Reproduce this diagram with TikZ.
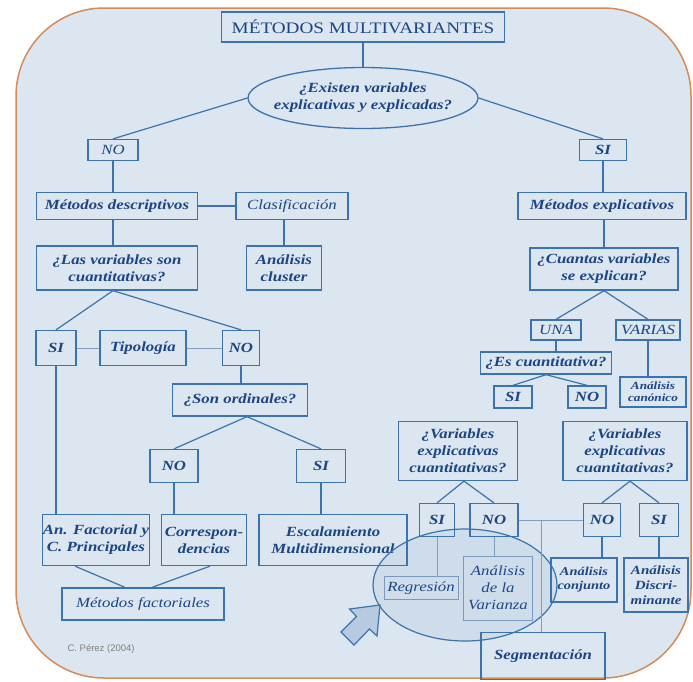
\documentclass[tikz,border=0pt]{standalone}
\usepackage{fontspec}
\setmainfont{Liberation Serif}[FakeStretch=1.2]
\newfontfamily\sansf{Liberation Sans}
\usetikzlibrary{shapes.geometric,calc}
\definecolor{bgfill}{HTML}{DCE6F0}
\definecolor{bord}{HTML}{D88A55}
\definecolor{boxc}{HTML}{3B73AE}
\definecolor{txtc}{HTML}{1B4585}
\definecolor{thinc}{HTML}{7F9DBF}
\definecolor{arrf}{HTML}{B6CBE0}
\begin{document}
\begin{tikzpicture}[x=1pt,y=-1pt,
  bx/.style={draw=boxc,line width=1.3pt,text=txtc,align=center,inner sep=0pt,
    font=\fontsize{14}{17}\selectfont\bfseries\itshape},
  itx/.style={font=\fontsize{14}{17}\selectfont\itshape},
  thinbox/.style={line width=0.8pt,draw=thinc},
  lk/.style={draw=boxc,line width=1.2pt},
  tl/.style={draw=thinc,line width=0.8pt}]
\useasboundingbox (0,0) rectangle (693,681);
% background panel
\fill[white] (0,0) rectangle (693,681);
\draw[bord,line width=1.5pt,fill=bgfill,rounded corners=88pt] (16,8) rectangle (691,678);

% top
\node[bx,minimum width=283,minimum height=30,font=\fontsize{16}{19}\selectfont] (title) at (363,27) {MÉTODOS MULTIVARIANTES};
\node[bx,ellipse,minimum width=230,minimum height=61] (q1) at (363,98) {\makebox[0pt]{¿Existen variables}\\\makebox[0pt]{explicativas y explicadas?}};
\node[bx,itx,minimum width=50,minimum height=21] (no1) at (113,150) {NO};
\node[bx,minimum width=47,minimum height=21] (si1) at (603,150) {SI};

% left branch
\node[bx,minimum width=161,minimum height=27] (mdesc) at (117,206) {Métodos descriptivos};
\node[bx,itx,minimum width=112,minimum height=27] (clasif) at (292,206) {Clasificación};
\node[bx,minimum width=161,minimum height=44] (qlas) at (117,268) {¿Las variables son\\cuantitativas?};
\node[bx,minimum width=75,minimum height=44] (cluster) at (284,268) {Análisis\\cluster};
\node[bx,minimum width=40,minimum height=35] (si2) at (56,348) {SI};
\node[bx,minimum width=86,minimum height=35] (tipo) at (143,348) {Tipología};
\node[bx,minimum width=37,minimum height=35] (no2) at (241,348) {NO};
\node[bx,minimum width=135,minimum height=32] (qord) at (240,400) {¿Son ordinales?};
\node[bx,minimum width=48,minimum height=33] (no3) at (174,466) {NO};
\node[bx,minimum width=49,minimum height=33] (si3) at (321,466) {SI};
\node[bx,minimum width=106,minimum height=51] (anfac) at (96,540) {An. Factorial y\\C. Principales};
\node[bx,minimum width=85,minimum height=51] (corr) at (204,540) {Correspon-\\dencias};
\node[bx,minimum width=148,minimum height=51] (escal) at (333,540) {Escalamiento\\Multidimensional};
\node[bx,itx,minimum width=162,minimum height=32] (mfact) at (143,604) {Métodos factoriales};
\node[text=gray,font=\sansf\fontsize{9.5}{11}\selectfont,anchor=west] (autor) at (64,649) {C. Pérez (2004)};

% right branch
\node[bx,minimum width=168,minimum height=27] (mexpl) at (602,206) {Métodos explicativos};
\node[bx,minimum width=148,minimum height=42] (qcuant) at (604,269) {¿Cuantas variables\\se explican?};
\node[bx,itx,minimum width=50,minimum height=20] (una) at (556,330) {UNA};
\node[bx,itx,minimum width=64,minimum height=20] (varias) at (648,330) {VARIAS};
\node[bx,minimum width=131,minimum height=22] (qes) at (546,363) {¿Es cuantitativa?};
\node[bx,minimum width=66,minimum height=30,font=\fontsize{11}{12}\selectfont\bfseries\itshape] (canon) at (653,392) {Análisis\\canónico};
\node[bx,minimum width=38,minimum height=22] (si4) at (513,397) {SI};
\node[bx,minimum width=38,minimum height=22] (no4) at (587,397) {NO};
\node[bx,minimum width=119,minimum height=59] (qvar1) at (458,451) {¿Variables\\explicativas\\cuantitativas?};
\node[bx,minimum width=124,minimum height=59] (qvar2) at (625,451) {¿Variables\\explicativas\\cuantitativas?};
\node[bx,minimum width=35,minimum height=33] (si5) at (437,520) {SI};
\node[bx,minimum width=48,minimum height=33] (no5) at (494,520) {NO};
\node[bx,minimum width=37,minimum height=33] (no6) at (602,520) {NO};
\node[bx,minimum width=39,minimum height=33] (si6) at (659,520) {SI};
\node[bx,itx,thinbox,minimum width=74,minimum height=23] (regr) at (421,588) {Regresión};
\node[bx,itx,thinbox,minimum width=69,minimum height=64] (anvar) at (498,588) {Análisis\\de la\\Varianza};
\node[bx,minimum width=66,minimum height=44,font=\fontsize{12}{14}\selectfont\bfseries\itshape] (conj) at (584,580) {Análisis\\conjunto};
\node[bx,minimum width=64,minimum height=54,font=\fontsize{12.5}{15}\selectfont\bfseries\itshape] (discr) at (656,585) {Análisis\\Discri-\\minante};
\node[bx,minimum width=124,minimum height=47] (segm) at (543,656) {Segmentación};

% highlight ellipse
\node[ellipse,draw=boxc,line width=1.2pt,fill=boxc,fill opacity=0.08,minimum width=184,minimum height=112] (hl) at (465,585) {};
% arrow
\draw[boxc,line width=1.2pt,fill=arrf,line join=miter]
  (380,605) -- (377,636) -- (369.5,629) -- (354,645) -- (341,632) -- (356.5,616.5) -- (349.5,609) -- cycle;

% connectors
\draw[lk] (title.south) -- (q1.north);
\draw[lk] (q1.west) -- (no1.north);
\draw[lk] (q1.east) -- (si1.north);
\draw[lk] (no1.south) -- (no1.south |- mdesc.north);
\draw[lk] (si1.south) -- (si1.south |- mexpl.north);
\draw[lk] (mdesc.east) -- (clasif.west);
\draw[lk] (no1.south |- mdesc.south) -- (no1.south |- qlas.north);
\draw[lk] (cluster.north |- clasif.south) -- (cluster.north);
\draw[lk] (qlas.south -| no1.south) -- (si2.north);
\draw[lk] (qlas.south -| no1.south) -- (no2.north);
\draw[tl] (si2.east) -- (tipo.west);
\draw[tl] (tipo.east) -- (no2.west);
\draw[lk] (no2.south) -- (no2.south |- qord.north);
\draw[lk] ($(qord.south)+(7,0)$) -- (no3.north);
\draw[lk] ($(qord.south)+(7,0)$) -- (si3.north);
\draw[lk] (si2.south) -- (si2.south |- anfac.north);
\draw[lk] (no3.south) -- (no3.south |- corr.north);
\draw[lk] (si3.south) -- (si3.south |- escal.north);
\draw[lk] ($(anfac.south)+(-21,0)$) -- ($(mfact.north)+(-18,0)$);
\draw[lk] ($(corr.south)+(6,0)$) -- ($(mfact.north)+(9,0)$);

\draw[lk] (mexpl.south -| qcuant.north) -- (qcuant.north);
\draw[lk] (qcuant.south) -- (una.north);
\draw[lk] (qcuant.south) -- (varias.north);
\draw[lk] (una.south) -- (una.south |- qes.north);
\draw[lk] (varias.south) -- (varias.south |- canon.north);
\draw[lk] (qes.south) -- (si4.north);
\draw[lk] (qes.south) -- (no4.north);
\draw[lk] ($(si4.south)+(-17,0)$) -- ($(si4.south)+(-17,0)$ |- qvar1.north);
\draw[lk] ($(no4.south)+(17,0)$) -- ($(no4.south)+(17,0)$ |- qvar2.north);
\draw[lk] ($(qvar1.south)+(6,0)$) -- (si5.north);
\draw[lk] ($(qvar1.south)+(6,0)$) -- (no5.north);
\draw[lk] ($(qvar2.south)+(5,0)$) -- (no6.north);
\draw[lk] ($(qvar2.south)+(5,0)$) -- (si6.north);
\draw[tl] (si5.south) -- (si5.south |- regr.north);
\draw[tl] (no5.south) -- (no5.south |- anvar.north);
\draw[lk] (no6.south) -- (no6.south |- conj.north);
\draw[lk] (si6.south) -- (si6.south |- discr.north);
\draw[tl] (no5.east) -- (no6.west);
\coordinate (segj) at (541,520);
\draw[tl] (segj) -- (segj |- segm.north);
\end{tikzpicture}
\end{document}
